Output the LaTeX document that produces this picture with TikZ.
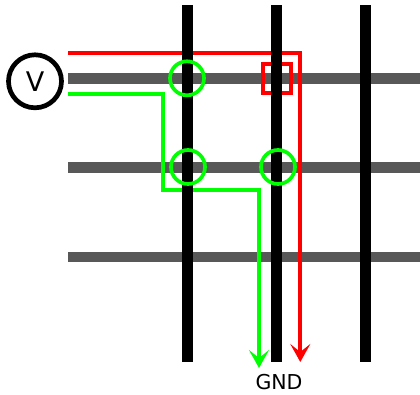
\documentclass[tikz,border=0pt]{standalone}
\usepackage{fontspec}
\setmainfont{DejaVu Sans}
\usetikzlibrary{arrows.meta}
\definecolor{railgray}{HTML}{585858}
\tikzset{
  rail/.style={line width=10.5pt, railgray},
  post/.style={line width=10.5pt, black},
  redwire/.style={line width=3.7pt, red},
  greenwire/.style={line width=3.7pt, green},
  probe/.style={circle, draw=green, line width=3.7pt, minimum size=34pt, inner sep=0pt},
  meter/.style={circle, draw=black, line width=4.7pt, minimum size=53pt, inner sep=0pt, font=\fontsize{27}{27}\selectfont},
  >={Stealth[length=18pt,width=20pt,inset=8pt]}
}
\begin{document}
\begin{tikzpicture}[x=1pt,y=-1pt]
    \useasboundingbox (0,0) rectangle (420,394);
    % rails
    \coordinate (R1) at (68,78.3);
    \coordinate (R2) at (68,167.7);
    \coordinate (R3) at (68,257);
    \coordinate (Q1) at (420,78.3);
    \coordinate (Q2) at (420,167.7);
    \coordinate (Q3) at (420,257);
    \draw[rail] (R1) -- (Q1);
    \draw[rail] (R2) -- (Q2);
    \draw[rail] (R3) -- (Q3);
    % wires
    \coordinate (Rs) at (68,52.7);
    \coordinate (Rc) at (300.3,52.7);
    \coordinate (Re) at (300.3,362);
    \coordinate (Gs) at (68,94.3);
    \coordinate (Ga) at (163.3,94.3);
    \coordinate (Gb) at (163.3,189.7);
    \coordinate (Gc) at (259,189.7);
    \coordinate (Ge) at (259,368);
    \draw[redwire] (262.7,64) rectangle (291.3,93.3);
    \draw[redwire,->] (Rs) -- (Rc) -- (Re);
    \draw[greenwire,->] (Gs) -- (Ga) -- (Gb) -- (Gc) -- (Ge);
    % posts
    \coordinate (P1) at (187.3,5);
    \coordinate (P2) at (276.7,5);
    \coordinate (P3) at (365.7,5);
    \coordinate (B1) at (187.3,362);
    \coordinate (B2) at (276.7,362);
    \coordinate (B3) at (365.7,362);
    \draw[post] (P1) -- (B1);
    \draw[post] (P2) -- (B2);
    \draw[post] (P3) -- (B3);
    % contacts
    \node[probe] (C1) at (187,78.3) {};
    \node[probe] (C2) at (188,167) {};
    \node[probe] (C3) at (278,167) {};
    \node[meter] (V) at (35,81.3) {V};
    \node[font=\fontsize{20.5}{20.5}\selectfont] (GND) at (279,382.5) {GND};
\end{tikzpicture}
\end{document}
